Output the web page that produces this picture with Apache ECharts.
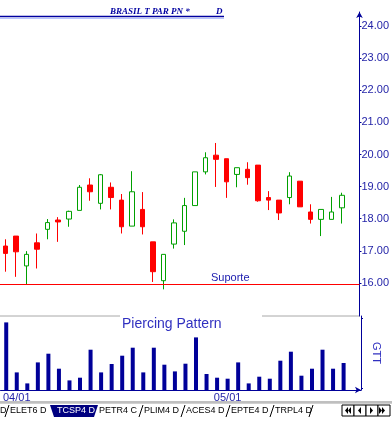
<!DOCTYPE html>
<html><head><meta charset="utf-8">
<script src="https://cdn.jsdelivr.net/npm/echarts@6/dist/echarts.min.js"></script>
<style>html,body{margin:0;padding:0;background:#fff}#c{width:392px;height:422px}</style>
</head><body><div id="c"></div>
<script>
// ---- data ----
const opens  = [17.15,17.46,16.53,17.25,17.67,17.96,17.99,18.26,19.05,18.48,18.98,18.58,17.77,18.29,17.28,16.07,17.21,17.61,18.41,19.46,19.98,19.87,19.38,19.54,19.67,18.66,18.58,18.66,19.17,18.21,17.98,17.98,18.34];
const closes = [16.92,16.97,16.89,17.05,17.88,17.90,18.23,18.98,18.84,19.37,18.66,17.75,18.84,17.75,16.35,16.89,17.87,18.41,19.46,19.90,19.85,19.15,19.59,19.28,18.56,18.58,18.18,19.33,18.37,17.98,18.29,18.21,18.73];
const lows   = [16.35,16.19,15.95,16.45,17.36,17.28,17.75,18.26,18.56,18.29,18.29,17.54,17.77,17.51,16.03,15.80,17.07,17.18,18.41,19.38,18.99,18.65,18.98,19.06,18.53,18.27,17.96,18.45,18.37,17.85,17.46,17.98,17.85];
const highs  = [17.36,17.46,16.99,17.54,17.99,18.05,18.25,19.05,19.26,19.39,19.13,18.77,19.48,18.83,17.28,16.89,17.98,18.65,19.46,20.07,20.36,19.87,19.59,19.76,19.67,18.86,18.58,19.45,19.17,18.45,18.29,18.68,18.81];
const volumes = [67.6,17.6,6.6,27.6,36.3,21.3,9.6,12.3,40.3,17.6,26,34.3,42.3,17.6,42.3,25.3,18.6,26.3,52.6,16,12.3,11.3,27.6,6.6,13.3,11.3,29.3,38.3,14.3,21.3,40.3,21.3,27];
const priceTicks = [16,17,18,19,20,21,22,23,24];
const dateTickIndex = [1, 21];
const dateTickLabels = ['04/01', '05/01'];
const supportLevel = 15.96;
const tabNames = ['D', 'ELET6 D', 'TCSP4 D', 'PETR4 C', 'PLIM4 D', 'ACES4 D', 'EPTE4 D', 'TRPL4 D'];

// ---- build series data ----
const candleData = opens.map((o, i) => [i, o, closes[i], lows[i], highs[i]]);
const volData = volumes.map((v, i) => [i, v]);

const NAVY = '#000099';
const LABEL = '#2424a8';
const FONT = 'Liberation Sans, Arial, sans-serif';

// tabs layout (UI decoration)
const tabX = [0, 10, 57, 99, 144, 186, 231, 275];
const tabGraphics = [];
tabGraphics.push({type:'line', shape:{x1:0,y1:402,x2:392,y2:402}, style:{stroke:'#808080', lineWidth:1}});
tabGraphics.push({type:'line', shape:{x1:0,y1:403.5,x2:392,y2:403.5}, style:{stroke:'#d0d0d0', lineWidth:1}});
tabGraphics.push({type:'polygon', shape:{points:[[50,405],[98,405],[94,417],[54,417]]}, style:{fill:'#000080'}});
const seps = [7, 141, 183, 228, 272, 311];
seps.forEach(s => {
  tabGraphics.push({type:'line', shape:{x1:s-2,y1:417,x2:s+2,y2:405}, style:{stroke:'#000', lineWidth:1}});
});
tabNames.forEach((n, k) => {
  tabGraphics.push({type:'text', x: tabX[k], y: 406.5, style:{text:n, font:'9px ' + FONT, fill: k === 2 ? '#ffffff' : '#000000'}});
});
// nav buttons
const navX = [342, 354, 366, 378];
navX.forEach(x => {
  tabGraphics.push({type:'rect', shape:{x:x, y:405, width:12, height:11}, style:{fill:'#fff', stroke:'#000', lineWidth:1}});
});
const tri = (tipX, baseX) => ({type:'polygon', shape:{points:[[tipX,410.5],[baseX,407],[baseX,414]]}, style:{fill:'#000'}});
tabGraphics.push(tri(345, 348), tri(348, 351), tri(358, 361), tri(373, 370), tri(382, 379), tri(385, 382));

const chart = echarts.init(document.getElementById('c'), null, {renderer:'canvas'});
chart.setOption({
  animation: false,
  backgroundColor: '#ffffff',
  grid: [
    {left: 0, width: 361, top: 12, height: 304},
    {left: 0, width: 361, top: 316, height: 74}
  ],
  xAxis: [
    {type:'value', gridIndex:0, min:-0.54, max:33.65, show:false},
    {type:'value', gridIndex:1, min:-0.54, max:33.65,
      axisLine:{show:true, onZero:false, lineStyle:{color:NAVY, width:1}, symbol:['none','arrow'], symbolSize:[5,6]},
      axisTick:{show:false},
      splitLine:{show:false},
      axisLabel:{customValues: dateTickIndex, margin:2, color:LABEL, fontSize:11, fontFamily:FONT,
        formatter: v => dateTickLabels[dateTickIndex.indexOf(v)] || ''}
    }
  ],
  yAxis: [
    {type:'value', gridIndex:0, position:'right', min:14.97, max:24.44, scale:true,
      axisLine:{show:true, onZero:false, lineStyle:{color:NAVY, width:1}, symbol:['none','arrow'], symbolSize:[5,6]},
      axisTick:{show:true, customValues: priceTicks, length:2, lineStyle:{color:NAVY}},
      splitLine:{show:false},
      axisLabel:{customValues: priceTicks, margin:2, color:LABEL, fontSize:11, fontFamily:FONT,
        formatter: v => v.toFixed(2)}
    },
    {type:'value', gridIndex:1, position:'right', min:0, max:74,
      axisLine:{show:true, onZero:false, lineStyle:{color:NAVY, width:1}},
      axisTick:{show:true, customValues:[2,72], length:2, lineStyle:{color:NAVY}},
      axisLabel:{show:false},
      splitLine:{show:false},
      name:'GTT', nameLocation:'middle', nameRotate:-90, nameGap:10,
      nameTextStyle:{color:'#3030c0', fontSize:11, fontFamily:FONT}
    }
  ],
  series: [
    {type:'candlestick', xAxisIndex:0, yAxisIndex:0, data:candleData,
      encode:{x:0, y:[1,2,3,4]}, barWidth:5, clip:false,
      itemStyle:{color:'#ffffff', color0:'#ff0000', borderColor:'#00a000', borderColor0:'#ff0000', borderWidth:1},
      markLine:{silent:true, symbol:['none','none'], label:{show:false},
        lineStyle:{color:'#ff0000', width:1, type:'solid'},
        data:[{yAxis: supportLevel}]}
    },
    {type:'bar', xAxisIndex:1, yAxisIndex:1, data:volData, barWidth:4,
      itemStyle:{color:NAVY}}
  ],
  graphic: [
    {type:'line', shape:{x1:0,y1:16.5,x2:224,y2:16.5}, style:{stroke:'#0000a0', lineWidth:1.5}},
    {type:'line', shape:{x1:0,y1:18.5,x2:224,y2:18.5}, style:{stroke:'#b8c4ff', lineWidth:1}},
    {type:'text', x:110, y:7, style:{text:'BRASIL T PAR PN *', font:'italic bold 9px "Liberation Serif", serif', fill:'#0000a0'}},
    {type:'text', x:216, y:7, style:{text:'D', font:'italic bold 9px "Liberation Serif", serif', fill:'#0000a0'}},
    {type:'line', shape:{x1:0,y1:316,x2:120,y2:316}, style:{stroke:'#a8a8a8', lineWidth:1}},
    {type:'line', shape:{x1:262,y1:316,x2:360,y2:316}, style:{stroke:'#a8a8a8', lineWidth:1}},
    {type:'text', x:122, y:317, style:{text:'Piercing Pattern', font:'14px ' + FONT, fill:'#3030c0'}},
    {type:'text', x:211, y:272, style:{text:'Suporte', font:'11px ' + FONT, fill:'#2020b0'}}
  ].concat(tabGraphics)
});
</script>
</body></html>
